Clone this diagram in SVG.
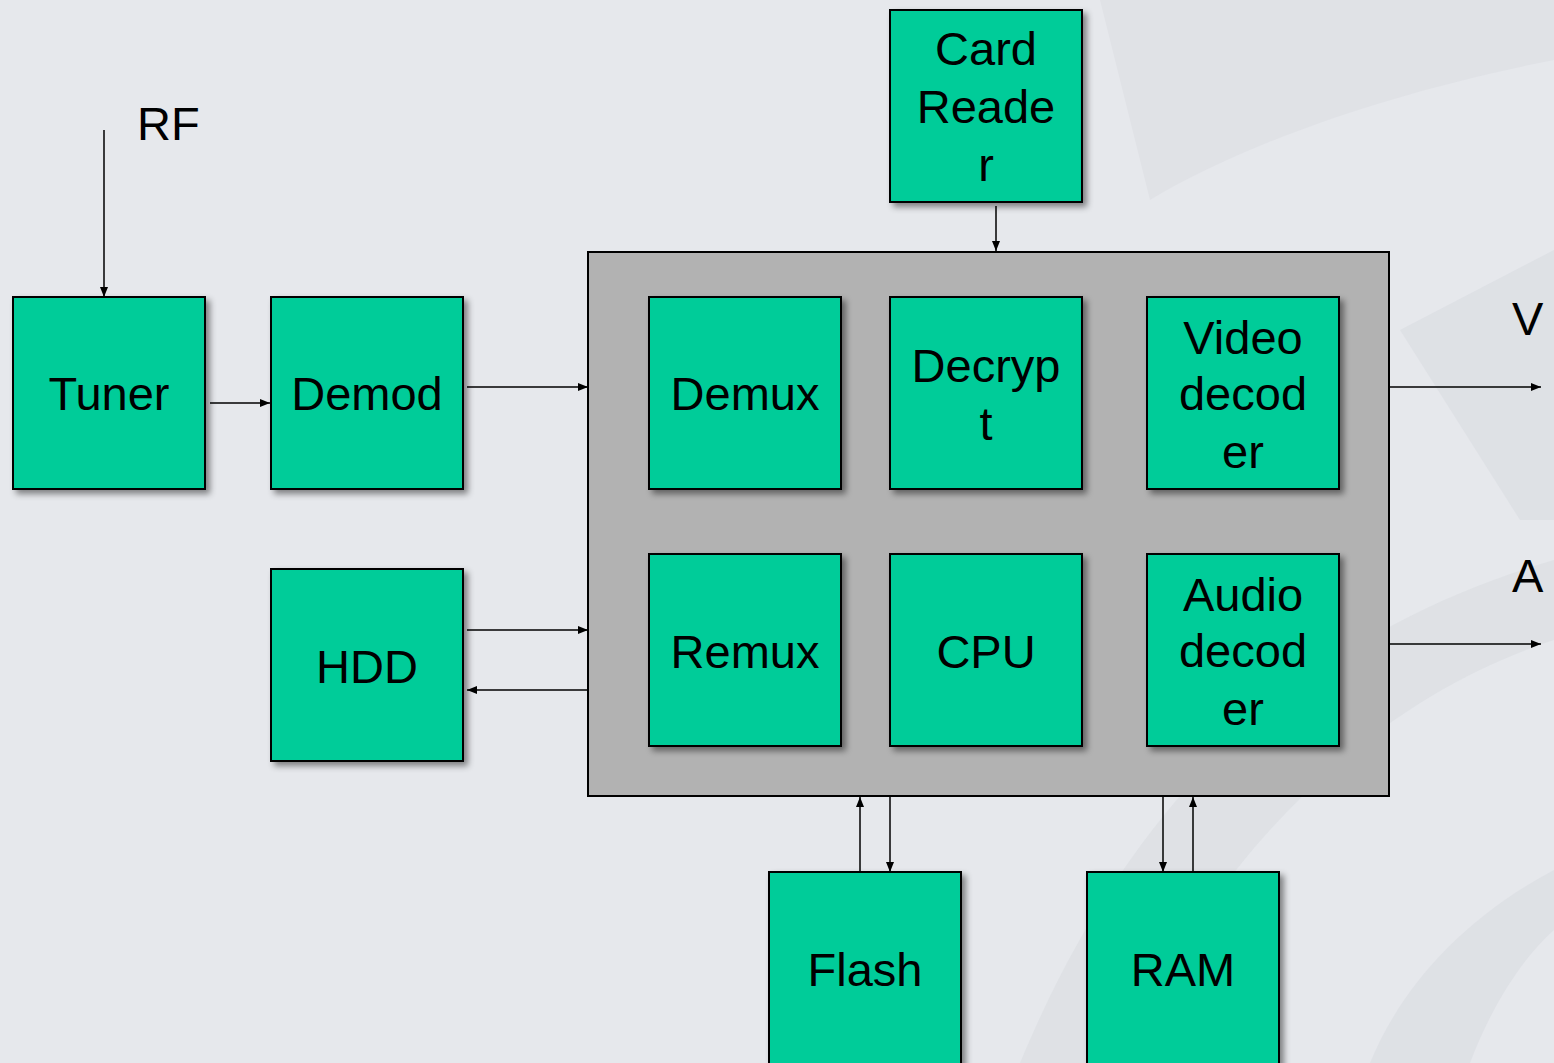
<svg xmlns="http://www.w3.org/2000/svg" width="1554" height="1063" viewBox="0 0 1554 1063">
<defs>
<filter id="sh" x="-10%" y="-10%" width="130%" height="130%">
<feDropShadow dx="4" dy="4" stdDeviation="3" flood-color="#000" flood-opacity="0.45"/>
</filter>
<marker id="ah" markerWidth="10" markerHeight="8" refX="10" refY="4" orient="auto" markerUnits="userSpaceOnUse">
<path d="M0,0 L10,4 L0,8 Z" fill="#000"/>
</marker>
<style>
.box{fill:#00cc99;stroke:#000;stroke-width:2;filter:url(#sh)}
.t{font-family:"Liberation Sans",Arial,sans-serif;font-size:47px;fill:#000;text-anchor:middle}
.lbl{font-family:"Liberation Sans",Arial,sans-serif;font-size:47px;fill:#000}
.c{stroke:#000;stroke-width:1.5;fill:none;marker-end:url(#ah)}
</style>
</defs>
<rect width="1554" height="1063" fill="#e6e8ec"/>
<g id="bg" fill="#dcdee3">
<path d="M1100,0 L1554,0 L1554,60 C1400,90 1250,140 1150,200 Z" opacity="0.6"/>
<path d="M1400,330 L1554,250 L1554,520 L1520,520 Z" opacity="0.8"/>
<path d="M1554,560 C1350,620 1150,750 1020,1063 L1120,1063 C1230,820 1400,690 1554,640 Z" opacity="0.7"/>
<path d="M1554,870 C1460,920 1400,990 1370,1063 L1470,1063 C1490,1010 1520,960 1554,930 Z" opacity="0.8"/>
</g>
<g id="soc"><rect x="588" y="252" width="801" height="544" fill="#b2b2b2" stroke="#000" stroke-width="2"/></g>
<g id="tuner"><rect class="box" x="13" y="297" width="192" height="192"/><text class="t" x="109" y="410">Tuner</text></g>
<g id="demod"><rect class="box" x="271" y="297" width="192" height="192"/><text class="t" x="367" y="410">Demod</text></g>
<g id="hdd"><rect class="box" x="271" y="569" width="192" height="192"/><text class="t" x="367" y="683">HDD</text></g>
<g id="cardreader"><rect class="box" x="890" y="10" width="192" height="192"/><text class="t" x="986" y="65">Card</text><text class="t" x="986" y="123">Reade</text><text class="t" x="986" y="181">r</text></g>
<g id="demux"><rect class="box" x="649" y="297" width="192" height="192"/><text class="t" x="745" y="410">Demux</text></g>
<g id="decrypt"><rect class="box" x="890" y="297" width="192" height="192"/><text class="t" x="986" y="382">Decryp</text><text class="t" x="986" y="440">t</text></g>
<g id="videodecoder"><rect class="box" x="1147" y="297" width="192" height="192"/><text class="t" x="1243" y="354">Video</text><text class="t" x="1243" y="410">decod</text><text class="t" x="1243" y="468">er</text></g>
<g id="remux"><rect class="box" x="649" y="554" width="192" height="192"/><text class="t" x="745" y="668">Remux</text></g>
<g id="cpu"><rect class="box" x="890" y="554" width="192" height="192"/><text class="t" x="986" y="668">CPU</text></g>
<g id="audiodecoder"><rect class="box" x="1147" y="554" width="192" height="192"/><text class="t" x="1243" y="611">Audio</text><text class="t" x="1243" y="667">decod</text><text class="t" x="1243" y="725">er</text></g>
<g id="flash"><rect class="box" x="769" y="872" width="192" height="200"/><text class="t" x="865" y="986">Flash</text></g>
<g id="ram"><rect class="box" x="1087" y="872" width="192" height="200"/><text class="t" x="1183" y="986">RAM</text></g>
<g id="labels">
<text class="lbl" x="137" y="140">RF</text>
<text class="lbl" x="1512" y="335">V</text>
<text class="lbl" x="1512" y="592">A</text>
</g>
<g id="connectors">
<line class="c" x1="104" y1="130" x2="104" y2="297"/>
<line class="c" x1="210" y1="403" x2="270" y2="403"/>
<line class="c" x1="467" y1="387" x2="588" y2="387"/>
<line class="c" x1="467" y1="630" x2="588" y2="630"/>
<line class="c" x1="588" y1="690" x2="467" y2="690"/>
<line class="c" x1="996" y1="206" x2="996" y2="251"/>
<line class="c" x1="1389" y1="387" x2="1541" y2="387"/>
<line class="c" x1="1389" y1="644" x2="1541" y2="644"/>
<line class="c" x1="860" y1="872" x2="860" y2="797"/>
<line class="c" x1="890" y1="797" x2="890" y2="872"/>
<line class="c" x1="1163" y1="797" x2="1163" y2="872"/>
<line class="c" x1="1193" y1="872" x2="1193" y2="797"/>
</g>
</svg>
